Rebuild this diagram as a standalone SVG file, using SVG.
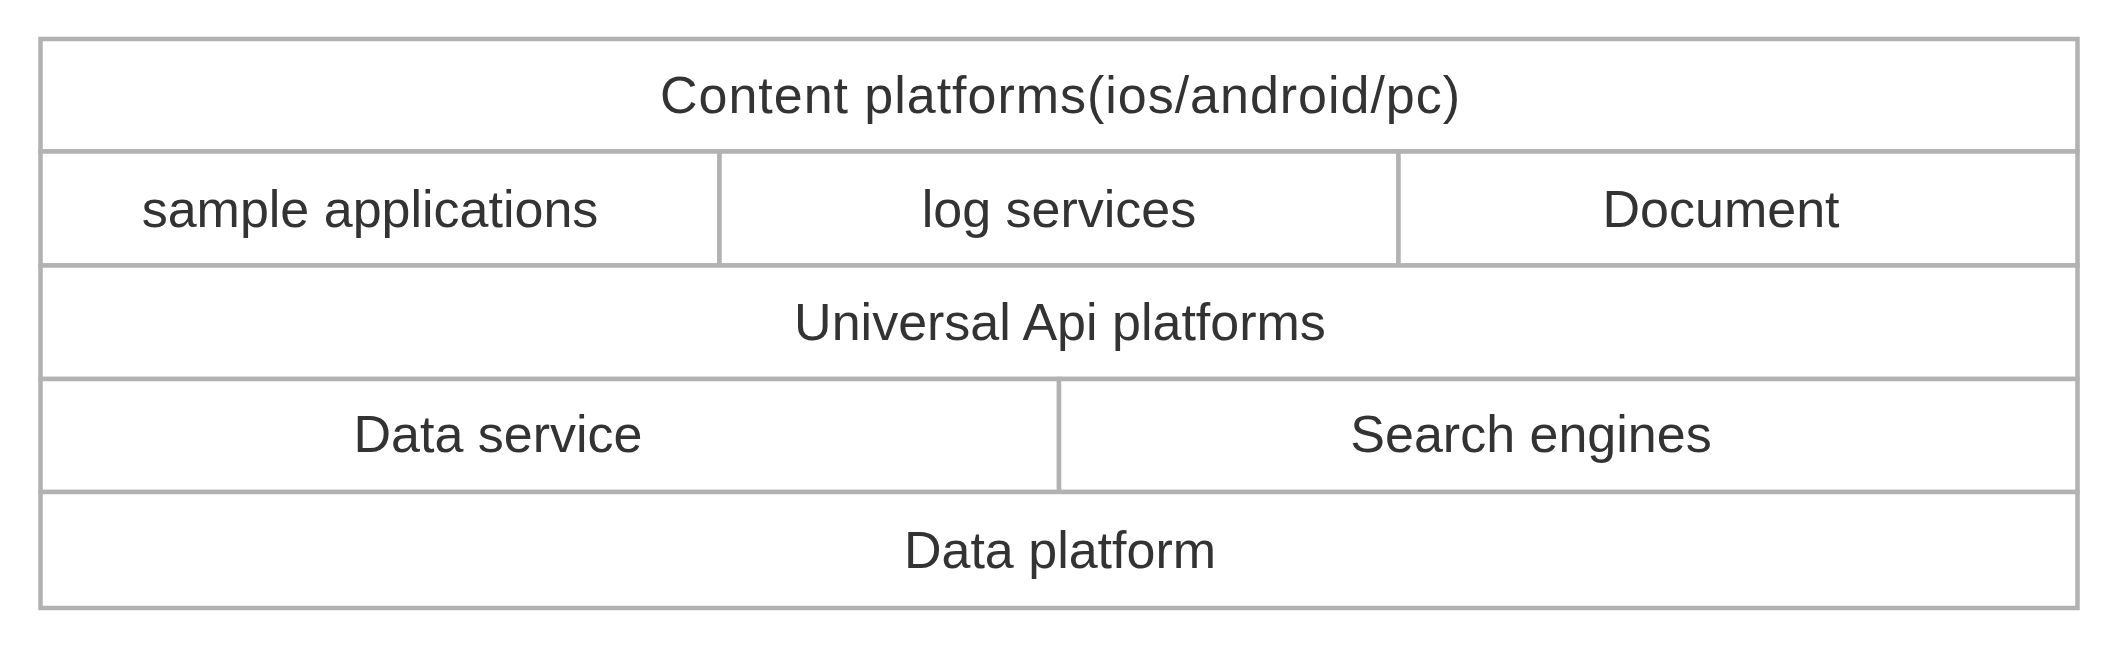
<svg xmlns="http://www.w3.org/2000/svg" width="2118" height="651" viewBox="0 0 2118 651">
<style>
.cell{fill:#ffffff;stroke:#b2b2b2;stroke-width:4.5}
.lbl{font-family:"Liberation Sans",Arial,sans-serif;font-size:52px;fill:#333333;text-anchor:middle}
</style>
<rect width="2118" height="651" fill="#ffffff"/>
<g id="content-platforms"><rect class="cell" x="40.5" y="39" width="2037" height="112.5"/><text class="lbl" x="1060" y="113" textLength="800" lengthAdjust="spacing">Content platforms(ios/android/pc)</text></g>
<g id="sample-applications"><rect class="cell" x="40.5" y="151.5" width="679" height="114"/><text class="lbl" x="370" y="227">sample applications</text></g>
<g id="log-services"><rect class="cell" x="719.5" y="151.5" width="679" height="114"/><text class="lbl" x="1059" y="227">log services</text></g>
<g id="document"><rect class="cell" x="1398.5" y="151.5" width="679" height="114"/><text class="lbl" x="1721" y="227">Document</text></g>
<g id="universal-api"><rect class="cell" x="40.5" y="265.5" width="2037" height="113.5"/><text class="lbl" x="1060" y="340">Universal Api platforms</text></g>
<g id="data-service"><rect class="cell" x="40.5" y="379" width="1018.5" height="113"/><text class="lbl" x="498" y="452">Data service</text></g>
<g id="search-engines"><rect class="cell" x="1059" y="379" width="1018.5" height="113"/><text class="lbl" x="1531" y="452">Search engines</text></g>
<g id="data-platform"><rect class="cell" x="40.5" y="492" width="2037" height="116"/><text class="lbl" x="1060" y="568">Data platform</text></g>
<g id="connectors"></g>
</svg>
